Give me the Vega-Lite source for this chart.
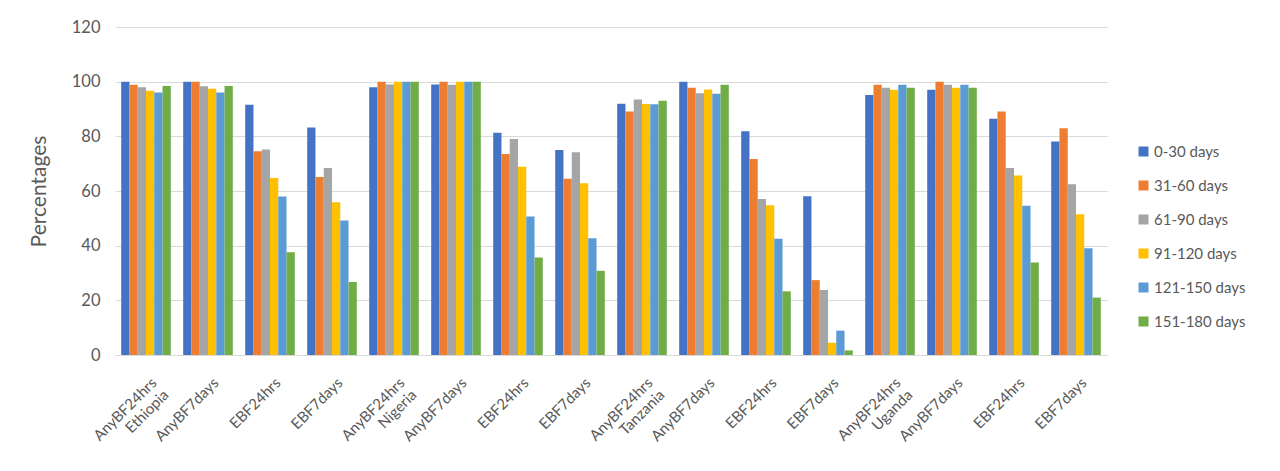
{
  "$schema": "https://vega.github.io/schema/vega-lite/v6.json",
  "width": 992,
  "height": 328,
  "autosize": {"type": "none"},
  "padding": {"left": 115, "top": 27, "right": 173, "bottom": 116},
  "background": "white",
  "config": {
    "font": "Lato",
    "view": {"stroke": null}
  },
  "data": {
    "values": [
      {"grp": "Ethiopia|AnyBF24hrs", "period": "0-30 days", "pct": 100},
      {"grp": "Ethiopia|AnyBF24hrs", "period": "31-60 days", "pct": 98.9},
      {"grp": "Ethiopia|AnyBF24hrs", "period": "61-90 days", "pct": 98},
      {"grp": "Ethiopia|AnyBF24hrs", "period": "91-120 days", "pct": 96.7},
      {"grp": "Ethiopia|AnyBF24hrs", "period": "121-150 days", "pct": 96},
      {"grp": "Ethiopia|AnyBF24hrs", "period": "151-180 days", "pct": 98.4},
      {"grp": "Ethiopia|AnyBF7days", "period": "0-30 days", "pct": 100},
      {"grp": "Ethiopia|AnyBF7days", "period": "31-60 days", "pct": 100},
      {"grp": "Ethiopia|AnyBF7days", "period": "61-90 days", "pct": 98.3},
      {"grp": "Ethiopia|AnyBF7days", "period": "91-120 days", "pct": 97.4},
      {"grp": "Ethiopia|AnyBF7days", "period": "121-150 days", "pct": 96},
      {"grp": "Ethiopia|AnyBF7days", "period": "151-180 days", "pct": 98.4},
      {"grp": "Ethiopia|EBF24hrs", "period": "0-30 days", "pct": 91.6},
      {"grp": "Ethiopia|EBF24hrs", "period": "31-60 days", "pct": 74.5},
      {"grp": "Ethiopia|EBF24hrs", "period": "61-90 days", "pct": 75.2},
      {"grp": "Ethiopia|EBF24hrs", "period": "91-120 days", "pct": 64.8},
      {"grp": "Ethiopia|EBF24hrs", "period": "121-150 days", "pct": 58},
      {"grp": "Ethiopia|EBF24hrs", "period": "151-180 days", "pct": 37.6},
      {"grp": "Ethiopia|EBF7days", "period": "0-30 days", "pct": 83.2},
      {"grp": "Ethiopia|EBF7days", "period": "31-60 days", "pct": 65.1},
      {"grp": "Ethiopia|EBF7days", "period": "61-90 days", "pct": 68.4},
      {"grp": "Ethiopia|EBF7days", "period": "91-120 days", "pct": 55.9},
      {"grp": "Ethiopia|EBF7days", "period": "121-150 days", "pct": 49.2},
      {"grp": "Ethiopia|EBF7days", "period": "151-180 days", "pct": 26.7},
      {"grp": "Nigeria|AnyBF24hrs", "period": "0-30 days", "pct": 98},
      {"grp": "Nigeria|AnyBF24hrs", "period": "31-60 days", "pct": 100},
      {"grp": "Nigeria|AnyBF24hrs", "period": "61-90 days", "pct": 99},
      {"grp": "Nigeria|AnyBF24hrs", "period": "91-120 days", "pct": 100},
      {"grp": "Nigeria|AnyBF24hrs", "period": "121-150 days", "pct": 100},
      {"grp": "Nigeria|AnyBF24hrs", "period": "151-180 days", "pct": 100},
      {"grp": "Nigeria|AnyBF7days", "period": "0-30 days", "pct": 99},
      {"grp": "Nigeria|AnyBF7days", "period": "31-60 days", "pct": 100},
      {"grp": "Nigeria|AnyBF7days", "period": "61-90 days", "pct": 98.9},
      {"grp": "Nigeria|AnyBF7days", "period": "91-120 days", "pct": 100},
      {"grp": "Nigeria|AnyBF7days", "period": "121-150 days", "pct": 100},
      {"grp": "Nigeria|AnyBF7days", "period": "151-180 days", "pct": 100},
      {"grp": "Nigeria|EBF24hrs", "period": "0-30 days", "pct": 81.3},
      {"grp": "Nigeria|EBF24hrs", "period": "31-60 days", "pct": 73.5},
      {"grp": "Nigeria|EBF24hrs", "period": "61-90 days", "pct": 79},
      {"grp": "Nigeria|EBF24hrs", "period": "91-120 days", "pct": 68.9},
      {"grp": "Nigeria|EBF24hrs", "period": "121-150 days", "pct": 50.7},
      {"grp": "Nigeria|EBF24hrs", "period": "151-180 days", "pct": 35.7},
      {"grp": "Nigeria|EBF7days", "period": "0-30 days", "pct": 75},
      {"grp": "Nigeria|EBF7days", "period": "31-60 days", "pct": 64.5},
      {"grp": "Nigeria|EBF7days", "period": "61-90 days", "pct": 74.2},
      {"grp": "Nigeria|EBF7days", "period": "91-120 days", "pct": 62.8},
      {"grp": "Nigeria|EBF7days", "period": "121-150 days", "pct": 42.7},
      {"grp": "Nigeria|EBF7days", "period": "151-180 days", "pct": 30.8},
      {"grp": "Tanzania|AnyBF24hrs", "period": "0-30 days", "pct": 91.9},
      {"grp": "Tanzania|AnyBF24hrs", "period": "31-60 days", "pct": 89.1},
      {"grp": "Tanzania|AnyBF24hrs", "period": "61-90 days", "pct": 93.5},
      {"grp": "Tanzania|AnyBF24hrs", "period": "91-120 days", "pct": 91.8},
      {"grp": "Tanzania|AnyBF24hrs", "period": "121-150 days", "pct": 91.7},
      {"grp": "Tanzania|AnyBF24hrs", "period": "151-180 days", "pct": 93},
      {"grp": "Tanzania|AnyBF7days", "period": "0-30 days", "pct": 100},
      {"grp": "Tanzania|AnyBF7days", "period": "31-60 days", "pct": 97.8},
      {"grp": "Tanzania|AnyBF7days", "period": "61-90 days", "pct": 95.8},
      {"grp": "Tanzania|AnyBF7days", "period": "91-120 days", "pct": 97.1},
      {"grp": "Tanzania|AnyBF7days", "period": "121-150 days", "pct": 95.6},
      {"grp": "Tanzania|AnyBF7days", "period": "151-180 days", "pct": 98.9},
      {"grp": "Tanzania|EBF24hrs", "period": "0-30 days", "pct": 81.9},
      {"grp": "Tanzania|EBF24hrs", "period": "31-60 days", "pct": 71.7},
      {"grp": "Tanzania|EBF24hrs", "period": "61-90 days", "pct": 57.1},
      {"grp": "Tanzania|EBF24hrs", "period": "91-120 days", "pct": 54.8},
      {"grp": "Tanzania|EBF24hrs", "period": "121-150 days", "pct": 42.5},
      {"grp": "Tanzania|EBF24hrs", "period": "151-180 days", "pct": 23.3},
      {"grp": "Tanzania|EBF7days", "period": "0-30 days", "pct": 58.1},
      {"grp": "Tanzania|EBF7days", "period": "31-60 days", "pct": 27.4},
      {"grp": "Tanzania|EBF7days", "period": "61-90 days", "pct": 23.8},
      {"grp": "Tanzania|EBF7days", "period": "91-120 days", "pct": 4.5},
      {"grp": "Tanzania|EBF7days", "period": "121-150 days", "pct": 8.9},
      {"grp": "Tanzania|EBF7days", "period": "151-180 days", "pct": 1.7},
      {"grp": "Uganda|AnyBF24hrs", "period": "0-30 days", "pct": 95.1},
      {"grp": "Uganda|AnyBF24hrs", "period": "31-60 days", "pct": 98.9},
      {"grp": "Uganda|AnyBF24hrs", "period": "61-90 days", "pct": 97.8},
      {"grp": "Uganda|AnyBF24hrs", "period": "91-120 days", "pct": 97},
      {"grp": "Uganda|AnyBF24hrs", "period": "121-150 days", "pct": 98.9},
      {"grp": "Uganda|AnyBF24hrs", "period": "151-180 days", "pct": 97.8},
      {"grp": "Uganda|AnyBF7days", "period": "0-30 days", "pct": 97},
      {"grp": "Uganda|AnyBF7days", "period": "31-60 days", "pct": 100},
      {"grp": "Uganda|AnyBF7days", "period": "61-90 days", "pct": 98.9},
      {"grp": "Uganda|AnyBF7days", "period": "91-120 days", "pct": 97.8},
      {"grp": "Uganda|AnyBF7days", "period": "121-150 days", "pct": 98.9},
      {"grp": "Uganda|AnyBF7days", "period": "151-180 days", "pct": 97.8},
      {"grp": "Uganda|EBF24hrs", "period": "0-30 days", "pct": 86.4},
      {"grp": "Uganda|EBF24hrs", "period": "31-60 days", "pct": 89.1},
      {"grp": "Uganda|EBF24hrs", "period": "61-90 days", "pct": 68.4},
      {"grp": "Uganda|EBF24hrs", "period": "91-120 days", "pct": 65.7},
      {"grp": "Uganda|EBF24hrs", "period": "121-150 days", "pct": 54.6},
      {"grp": "Uganda|EBF24hrs", "period": "151-180 days", "pct": 33.8},
      {"grp": "Uganda|EBF7days", "period": "0-30 days", "pct": 78.1},
      {"grp": "Uganda|EBF7days", "period": "31-60 days", "pct": 83},
      {"grp": "Uganda|EBF7days", "period": "61-90 days", "pct": 62.5},
      {"grp": "Uganda|EBF7days", "period": "91-120 days", "pct": 51.5},
      {"grp": "Uganda|EBF7days", "period": "121-150 days", "pct": 39.1},
      {"grp": "Uganda|EBF7days", "period": "151-180 days", "pct": 21}
    ]
  },
  "mark": {"type": "bar"},
  "encoding": {
    "x": {
      "field": "grp",
      "type": "nominal",
      "sort": null,
      "scale": {"paddingInner": 0.2, "paddingOuter": 0.1},
      "axis": {
        "title": null,
        "labelAngle": -45,
        "labelFontSize": 15,
        "labelColor": "#595959",
        "labelPadding": 20,
        "labelOffset": 3,
        "labelLineHeight": 17,
        "ticks": false,
        "domainColor": "#D9D9D9",
        "labelExpr": "split(datum.label, '|')[1] == 'AnyBF24hrs' ? [split(datum.label, '|')[1], split(datum.label, '|')[0] + '\u00a0\u00a0\u00a0'] : split(datum.label, '|')[1]"
      }
    },
    "xOffset": {
      "field": "period",
      "type": "nominal",
      "sort": ["0-30 days", "31-60 days", "61-90 days", "91-120 days", "121-150 days", "151-180 days"],
      "scale": {"paddingInner": 0, "paddingOuter": 0}
    },
    "y": {
      "field": "pct",
      "type": "quantitative",
      "scale": {"domain": [0, 120]},
      "axis": {
        "title": "Percentages",
        "titleFontSize": 21,
        "titleFontWeight": "normal",
        "titleColor": "#595959",
        "titlePadding": 22,
        "values": [0, 20, 40, 60, 80, 100, 120],
        "labelFontSize": 16.5,
        "labelColor": "#595959",
        "labelPadding": 15,
        "ticks": false,
        "domain": false,
        "gridColor": "#D9D9D9"
      }
    },
    "color": {
      "field": "period",
      "type": "nominal",
      "sort": ["0-30 days", "31-60 days", "61-90 days", "91-120 days", "121-150 days", "151-180 days"],
      "scale": {
        "domain": ["0-30 days", "31-60 days", "61-90 days", "91-120 days", "121-150 days", "151-180 days"],
        "range": ["#4472C4", "#ED7D31", "#A5A5A5", "#FFC000", "#5B9BD5", "#70AD47"]
      },
      "legend": {
        "title": null,
        "orient": "none",
        "legendX": 1021,
        "legendY": 117,
        "symbolType": "square",
        "symbolSize": 100,
        "symbolStrokeWidth": 0,
        "labelFontSize": 15,
        "labelColor": "#595959",
        "labelOffset": 3,
        "rowPadding": 18
      }
    }
  }
}
